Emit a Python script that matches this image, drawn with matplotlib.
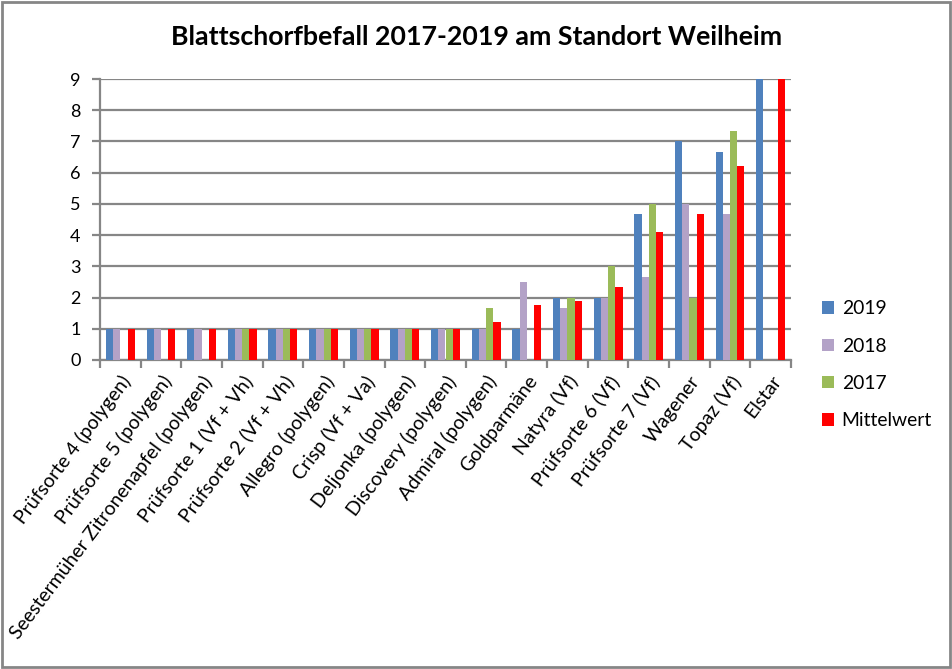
import matplotlib
matplotlib.use("Agg")
import matplotlib.pyplot as plt
import numpy as np
from matplotlib.patches import Rectangle

plt.rcParams['font.family'] = ['Lato', 'DejaVu Sans']

categories = ["Prüfsorte 4 (polygen)", "Prüfsorte 5 (polygen)", "Seestermüher Zitronenapfel (polygen)",
              "Prüfsorte 1 (Vf + Vh)", "Prüfsorte 2 (Vf + Vh)", "Allegro (polygen)", "Crisp (Vf + Va)",
              "Deljonka (polygen)", "Discovery (polygen)", "Admiral (polygen)", "Goldparmäne",
              "Natyra (Vf)", "Prüfsorte 6 (Vf)", "Prüfsorte 7 (Vf)", "Wagener", "Topaz (Vf)", "Elstar"]
v2019 = [1, 1, 1, 1, 1, 1, 1, 1, 1, 1, 1, 2, 2, 4.67, 7, 6.67, 9]
v2018 = [1, 1, 1, 1, 1, 1, 1, 1, 1, 1, 2.5, 1.67, 2, 2.67, 5, 4.67, 0]
v2017 = [0, 0, 0, 1, 1, 1, 1, 1, 1, 1.67, 0, 2, 3, 5, 2, 7.33, 0]
mittel = [1, 1, 1, 1, 1, 1, 1, 1, 1, 1.22, 1.75, 1.89, 2.33, 4.11, 4.67, 6.22, 9]
series_names = ["2019", "2018", "2017", "Mittelwert"]
colors = ["#4F81BD", "#B3A2C7", "#9BBB59", "#FF0000"]
yticks = list(range(0, 10))

fig = plt.figure(figsize=(9.53, 6.69), dpi=100)
ax = fig.add_axes([100/953, 1-360/669, (791-100)/953, (360-79)/669])

x = np.arange(len(categories))
w = 0.178
for i, (vals, c, n) in enumerate(zip([v2019, v2018, v2017, mittel], colors, series_names)):
    ax.bar(x + (i - 1.5) * w, vals, width=w, color=c, label=n, zorder=3)

ax.set_xlim(-0.5, len(categories) - 0.5)
ax.set_ylim(0, 9)
ax.set_yticks(yticks)
ax.yaxis.grid(True, color="#868686", linewidth=1.6, zorder=0)
ax.set_axisbelow(True)
for s in ["top", "right"]:
    ax.spines[s].set_visible(False)
for s in ["left", "bottom"]:
    ax.spines[s].set_color("#868686")
    ax.spines[s].set_linewidth(1.6)

ax.set_xticks(x)
ax.set_xticklabels(categories, rotation=53, ha="right", va="top", rotation_mode="anchor", fontsize=14)
ax.tick_params(axis="x", which="major", length=0, pad=9)
ax.set_xticks(np.arange(-0.5, len(categories)), minor=True)
ax.tick_params(axis="x", which="minor", length=6, width=1.6, color="#868686", direction="out")
ax.tick_params(axis="y", length=6, width=1.6, color="#868686", direction="out", labelsize=13, pad=8)

fig.suptitle("Blattschorfbefall 2017-2019 am Standort Weilheim", x=477/953, y=1-37/669, va="center",
             fontsize=19.3, fontweight="bold")

leg = fig.legend(loc="upper left", bbox_to_anchor=(805/953, 1-283/669), frameon=False,
                 fontsize=13.9, handlelength=0.6, handleheight=0.6, labelspacing=1.05, handletextpad=0.4)

fig.patches.append(Rectangle((2/953, 2/669), 948/953, 665/669, transform=fig.transFigure,
                             fill=False, edgecolor="#868686", linewidth=2))

fig.savefig("out.png", dpi=100)
